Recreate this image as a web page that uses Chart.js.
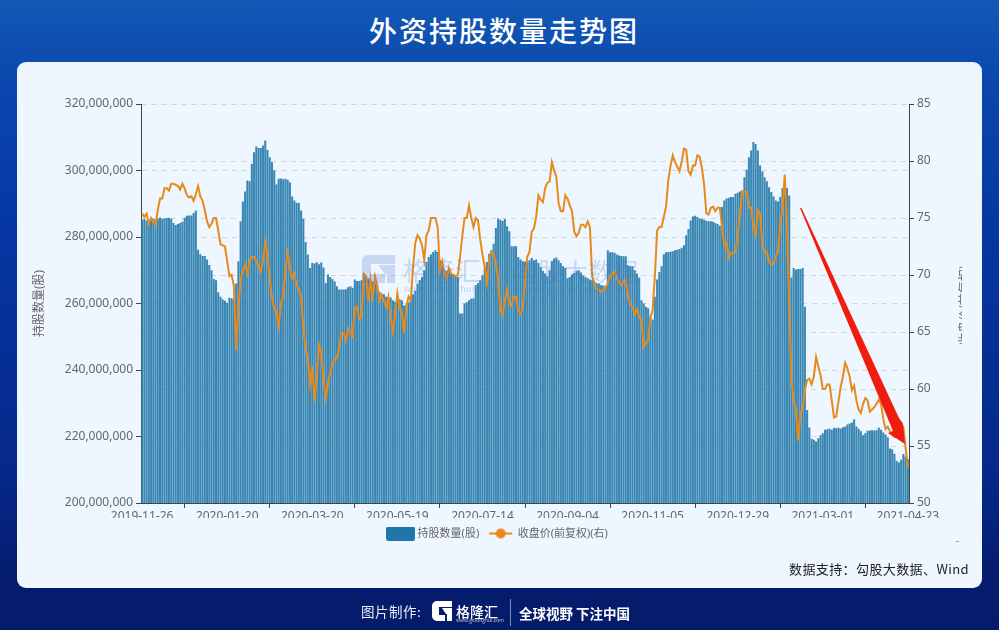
<!DOCTYPE html>
<html lang="zh"><head><meta charset="utf-8">
<script src="https://cdn.jsdelivr.net/npm/chart.js@4/dist/chart.umd.min.js"></script>
<style>
html,body{margin:0;padding:0;width:999px;height:630px;overflow:hidden}
body{position:relative;background:linear-gradient(180deg,#1259b6 0,#0a46ad 14%,#0535a0 40%,#06288a 75%,#051c6e 92%,#051b6a 100%);font-family:"Noto Sans CJK SC","Noto Sans",sans-serif}
.a{position:absolute;white-space:nowrap}
#panel{left:17px;top:62px;width:965px;height:526px;background:#eef7ff;border-radius:9px}
#title{left:0;width:1008px;top:10px;text-align:center;color:#fff;font-size:28px;font-weight:500;letter-spacing:2px;line-height:40px}
#wrap{left:0;top:0;width:999px;height:630px}
#src{right:30px;top:559px;font-size:13px;letter-spacing:.4px;color:#222;line-height:20px}
.wm{color:rgba(70,110,200,.22);line-height:30px}
.wms{color:rgba(70,110,200,.28);line-height:12px}
#rt{left:956px;top:266px;width:6px;height:78px;overflow:hidden}
#rt span{position:absolute;left:-31px;top:33px;width:78px;text-align:center;transform:rotate(-90deg);font-size:12px;line-height:14px;color:#666;white-space:nowrap}
</style></head><body>
<div class="a" id="panel"></div>
<div class="a" id="title">外资持股数量走势图</div>
<div class="a" id="wrap"><canvas id="c" width="999" height="630"></canvas></div>
<svg class="a" style="left:0;top:0" width="999" height="630" viewBox="0 0 999 630">
 <path d="M362 261 a6 6 0 0 1 6-6 h27 v9 h-24 v10 h14 v9 h-21 a2 2 0 0 1 -2-2z M378 265 h17 v18 h-8 v-9 h-2z" fill="rgba(70,110,200,.22)"/>
 <polygon points="800,208 801.5,208 899,418 903,424 905,444 888,433 893,431" fill="#f01c10"/>
 <path d="M432 606 a5 5 0 0 1 5-5 h15 v6 h-13 v8 h6 v6 h-8 a5 5 0 0 1 -5-5z M442 608 h10 v13 h-5 v-7 h-1z" fill="#fff"/>
 <rect x="510" y="599" width="1" height="27" fill="rgba(255,255,255,.5)"/>
</svg>
<div class="a wm" style="left:403px;top:255px;font-size:26px">格隆汇</div>
<div class="a wms" style="left:404px;top:283px;font-size:9px;letter-spacing:.4px">www.gelonghui.com</div>
<div class="a wm" style="left:513px;top:255px;font-size:25px">勾股大数据</div>
<div class="a wms" style="left:515px;top:283px;font-size:9.5px;letter-spacing:1.6px">www.gogudata.com</div>
<div class="a" id="rt"><span>收盘价(前复权)</span></div>
<div class="a" style="left:956px;top:541px;width:3px;height:1px;background:#999"></div>
<div class="a" id="src">数据支持：勾股大数据、Wind</div>
<div class="a" style="left:361px;top:601px;color:#e8eefc;font-size:13.5px;line-height:20px;letter-spacing:.5px">图片制作:</div>
<div class="a" style="left:456px;top:601px;color:#fff;font-size:14px;font-weight:500;line-height:20px">格隆汇</div>
<div class="a" style="left:456px;top:617px;color:rgba(255,255,255,.7);font-size:5px;line-height:6px">www.gelonghui.com</div>
<div class="a" style="left:519px;top:603px;color:#fff;font-size:13.5px;font-weight:700;line-height:20px">全球视野 下注中国</div>
<script>
const tickLabels=["2019-11-26","2020-01-20","2020-03-20","2020-05-19","2020-07-14","2020-09-04","2020-11-05","2020-12-29","2021-03-01","2021-04-23"];
const tickEvery=38;
// holdings, in millions of shares
const holdingsMillions=[
285.2,285.4,285,284.9,285.3,285.5,285.2,285.6,285.9,285.4,
285.6,285.7,285.8,285.5,284.2,283.6,283.9,284.2,284.6,285.8,
286.4,286.5,286.5,287.2,288,276.2,274.8,274.3,274.3,273.2,
271.6,270,267.4,267,263.4,262,261.2,260.8,260.2,261.7,
261.6,261.2,266,272.7,284.7,290.7,293.7,297,296.8,302,
305.5,307.2,306.8,306.8,307.5,309,306.2,304,302.5,300,
295.8,297.5,297.6,297.4,297.5,297.2,296.5,292.2,291,290.3,
290.2,288,285.5,278.5,274.7,270.7,272.2,272,272.4,271.8,
272.3,270.8,266.2,268.7,268,267.4,266.6,265.2,264.2,264.2,
264.2,264.3,264.9,265.2,264.7,267.2,266.8,266.8,267,268,
268.2,267.5,267,266.5,266,265.5,263.5,263,262.8,262,
261.5,261.8,261,260.5,260.8,261.2,261,259.4,259.6,260.4,
261.5,262.8,263.8,266,267,268,270,272.5,274,274.7,
275.5,276,275.5,273,272,270.2,269.8,269.5,269,268.6,
268.2,268,257,257,260,260.4,261,261.4,261.6,265.5,
266.2,267,268.5,270.7,272.5,275,276,278,282.7,285.6,
285.2,284.8,285.4,283.2,281.7,277.2,277.2,277.2,274,273.2,
272.7,272.6,272.5,273,273.7,273,273.2,272.2,271,269.8,
269,268.2,270,272.7,273.5,273.8,273,272.2,271.2,270.7,
267.6,268,268.7,269.2,269.8,270,269.3,268.4,268,267.6,
267.2,267,266.6,266.2,266,265.6,265.4,265.2,276,275.4,
275.4,275.3,274.7,274.4,274.3,274.2,274.2,271.5,271.2,271.2,
270,269,267.8,261,260,259,258.6,256,255.2,262,
267.2,269.5,271.2,274.8,275.4,275.5,275.6,275.7,276,276.2,
276.4,276.8,277.5,280.5,282.4,285,286.2,286.4,286,285.6,
285.5,285.2,284.9,284.7,284.7,284.6,284.2,283.9,283.4,289,
291,291.6,291.8,292,292,293,293.3,293.7,294,298,
300.2,304,306,308.6,308,306,301.5,299.7,298,296.8,
295,293.5,292.2,291,290.7,292,294.7,294.7,294.7,292.5,
267.8,270.7,270.2,270.4,270.4,270.7,259,228,222.7,219.3,
219,218.5,219.5,220.4,221,222,222.2,222.3,222,222.6,
222.5,222.6,222.4,222.8,223,223.6,223.9,224.2,225.2,223,
222.3,221.6,220.4,221,221.7,221.8,221.9,221.8,221.9,222.6,
222,221.2,220.6,219.8,216.4,216.2,214.8,212.6,212.2,213,
214.7,214,213.2];
// closing price, forward adjusted
const closePrice=[
75.4,75.1,75.4,74.5,75,74.7,74.4,75.7,76.7,76.7,
77.6,77.6,77.4,78,78,77.9,77.8,77.5,78,77.6,
77,76.8,76.9,76.5,77.1,77.8,76.9,76.5,75.7,74.7,
74.2,74.5,75,75,73.9,72.7,72.6,72.5,71.2,69.9,
70,69,63.4,67.2,69.6,70.4,70.9,70.1,71.3,71.6,
71.6,71.2,70.7,70.3,71.3,72.9,71.6,69.6,68,67,
66.8,65.5,67.5,68.1,70.4,71.9,70.7,69.7,70.1,69.1,
68.7,68.2,65.5,63.4,62.8,60.4,62,58.9,61.1,63.9,
63.3,60.8,59.2,60.5,61.5,62.2,62.7,62.7,63.7,64.9,
64.9,64.3,65.3,64.9,64.6,67.1,67.2,66.1,66.3,70.1,
69.9,67.7,69.6,68.1,69.9,69.1,67.8,68.2,67.7,67.2,
68.1,66.3,65,66.6,68.4,67.2,66.6,64.9,67.2,68.1,
67.8,70.7,72.8,73.5,73.2,72.6,71.3,73.5,73.9,75,
75,75,74.2,70.4,71.2,70.1,69.7,70.6,70.1,70,
69.9,70,71.6,73.4,75,75,76.1,75,74.2,75,
74.8,73.1,71.8,70.7,69.3,71.5,72,71.9,71,69.6,
66.9,66.5,67.8,68.7,67.4,67.3,68.1,68.1,66.8,66.6,
67.1,69.3,71.6,72,73.8,74.1,75.1,77,76.6,76.4,
77.6,78.1,78.2,79.9,79.2,78.6,76.3,75.6,75.6,77,
76.7,76.1,75.6,73.8,73.4,73.7,74.4,74.4,74.2,74.7,
74.2,69.9,69.1,68.8,68.7,68.5,68.7,68.8,69.3,69.9,
70.1,70.3,69.7,69.4,69.1,69.4,69.6,68.1,67.4,67.2,
66.6,67,66.3,66.1,63.7,64,64.3,66.3,66.9,69.9,
73.9,74.2,74.2,75.1,76,78.3,79.6,80.5,79.9,79.5,
79.1,80,81.1,81,79.1,78.8,79.6,79.6,80.5,80.4,
79.4,77.9,75.4,75.3,75.9,76,75.6,75.9,75.9,74.2,
72.6,72.8,71.5,71.9,72,72,73.4,75.4,77.3,77.3,
77.3,75.9,75.9,74.2,73.5,75.7,75.4,72.5,72,72,
71.2,70.9,71,71.6,72,74.5,75.9,78.8,74.5,67.5,
60.8,58.9,58.3,55.5,57.9,58.2,59.9,60.8,60.9,60.4,
61.1,62.8,62,61.2,60,60,60.4,60.4,59,57.5,
57.6,58.9,60.2,61.1,62.3,61.8,61.1,59.9,60.3,59,
58.2,57.9,58.7,59.2,59,58,58.2,58.4,58.7,59.1,
58.7,57.4,56.5,56.7,56.3,56,55.8,55.8,56.1,57,
56.6,54.8,53.1];
const categories=closePrice.map((_,i)=>i%tickEvery===0?tickLabels[i/tickEvery]:"");
const FONT='"Noto Sans","Noto Sans CJK SC",sans-serif';
const GREY="#666",AXIS="#444",GRID="#d2d6da";
function swatch(kind){
  const o=document.createElement("canvas");o.width=29;o.height=14;
  const x=o.getContext("2d");
  if(kind==="bar"){x.fillStyle="#1f76a8";x.beginPath();x.roundRect(0,0,29,14,2);x.fill();}
  else{x.strokeStyle="#e8891c";x.lineWidth=2;x.beginPath();x.moveTo(3,7);x.lineTo(26,7);x.stroke();x.fillStyle="#e8891c";x.beginPath();x.arc(14.5,7,5,0,7);x.fill();}
  return o;
}
new Chart(document.getElementById("c"),{
 data:{labels:categories,datasets:[
  {type:"line",label:"收盘价(前复权)(右)",data:closePrice,yAxisID:"yR",borderColor:"#e8891c",backgroundColor:"#e8891c",borderWidth:2,pointRadius:0,tension:0,order:1},
  {type:"bar",label:"持股数量(股)",data:holdingsMillions.map(v=>v*1e6),yAxisID:"yL",backgroundColor:"rgba(31,118,168,.87)",barPercentage:.92,categoryPercentage:1,order:2}
 ]},
 options:{responsive:false,animation:false,
  layout:{padding:{left:28,right:30,top:104,bottom:81}},
  plugins:{title:{display:false},tooltip:{enabled:false},
   legend:{position:"bottom",labels:{usePointStyle:true,pointStyleWidth:23,boxHeight:14,boxWidth:23,color:GREY,padding:10,font:{family:FONT,size:11},
    generateLabels(ch){
      return ["bar","line"].map(k=>{const i=k==="bar"?1:0;return {text:ch.data.datasets[i].label,datasetIndex:i,fontColor:GREY,fillStyle:"#000",strokeStyle:"#000",lineWidth:0,pointStyle:swatch(k)};});
    }}}},
  scales:{
   x:{type:"category",offset:true,
     afterBuildTicks(s){s.ticks=s.ticks.filter(t=>categories[t.value]!=="");},
     afterFit(s){s.height=15;},
     grid:{offset:true,drawOnChartArea:false,drawTicks:true,tickLength:5,tickColor:AXIS},
     border:{display:true,color:AXIS,width:1},
     ticks:{autoSkip:false,maxRotation:0,minRotation:0,padding:1,color:GREY,font:{family:FONT,size:12},callback(v){return categories[v];}}},
   yL:{position:"left",min:200e6,max:320e6,
     afterFit(s){s.width=113;},
     title:{display:true,text:"持股数量(股)",color:GREY,font:{family:FONT,size:12},padding:{top:4,bottom:0}},
     grid:{color:GRID,tickColor:AXIS,tickLength:5},border:{color:AXIS,width:1,dash:[5,5]},
     ticks:{stepSize:20e6,padding:3,color:GREY,font:{family:FONT,size:12},callback:v=>Number(v).toLocaleString("en-US")}},
   yR:{position:"right",min:50,max:85,
     afterFit(s){s.width=60;},
     grid:{color:GRID,tickColor:AXIS,tickLength:5},border:{color:AXIS,width:1,dash:[5,5]},
     ticks:{stepSize:5,padding:3,color:GREY,font:{family:FONT,size:12}}}
  }}
});
</script>
</body></html>
